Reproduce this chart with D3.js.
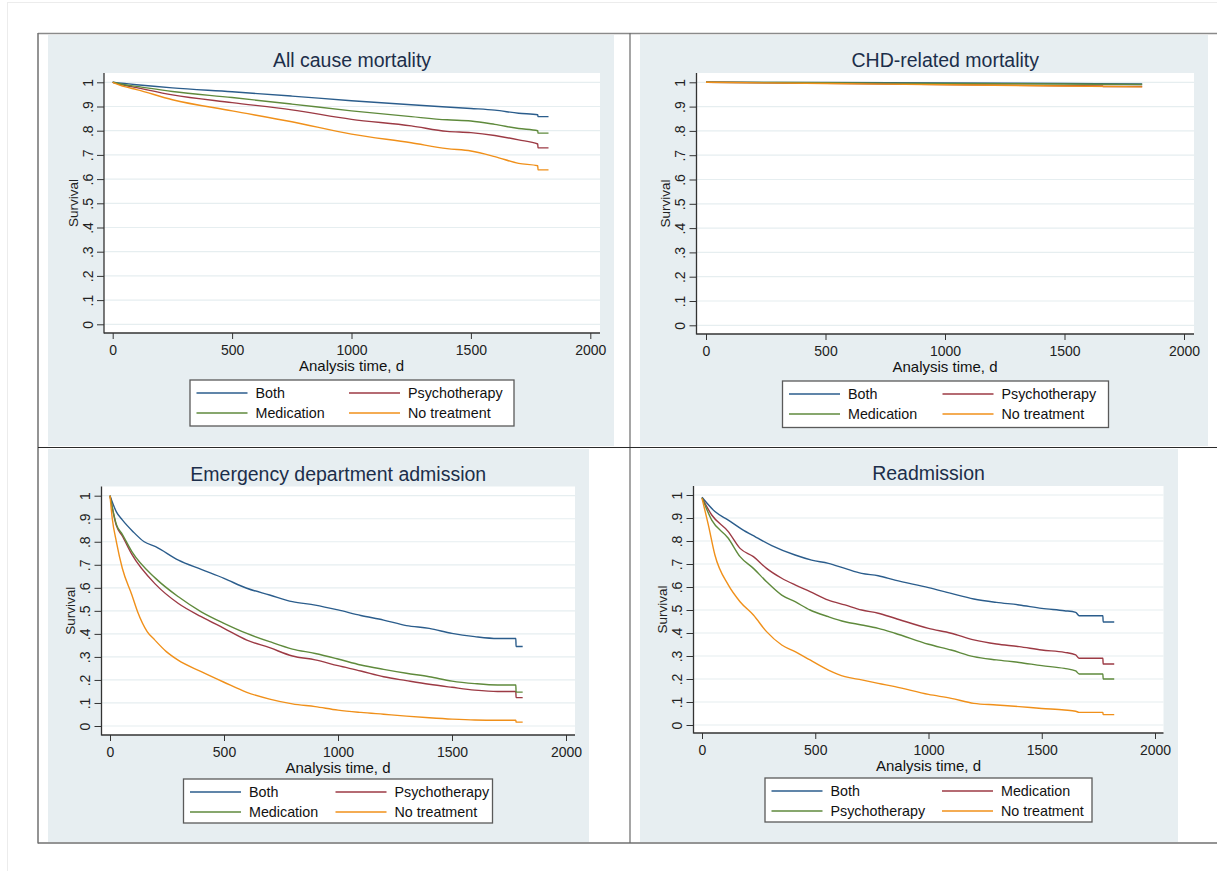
<!DOCTYPE html>
<html>
<head>
<meta charset="utf-8">
<script src="https://cdn.jsdelivr.net/npm/d3@7"></script>
<style>
  body { margin: 0; background: #fff; }
  text { font-family: "Liberation Sans", Arial, sans-serif; }
</style>
</head>
<body>
<script>
// ---- data: [analysis time (d), survival] ----
const xTicks = [0, 500, 1000, 1500, 2000];
const yTicks = [0, .1, .2, .3, .4, .5, .6, .7, .8, .9, 1];
const seriesColors = ["#2b5d8c", "#9c3a44", "#5f8a3c", "#f0901a"];

// All cause mortality
const acBoth = [[0,1],[50,.995],[100,.99],[250,.977],[500,.961],[750,.943],[1000,.924],[1250,.907],[1500,.892],[1600,.885],[1700,.872],[1780,.866],[1781,.858],[1825,.858]];
const acPsycho = [[0,1],[50,.988],[100,.978],[250,.948],[500,.916],[750,.886],[1000,.847],[1250,.82],[1400,.797],[1500,.792],[1600,.78],[1700,.762],[1780,.745],[1781,.729],[1825,.729]];
const acMed = [[0,1],[50,.99],[100,.983],[250,.962],[500,.937],[750,.91],[1000,.882],[1250,.858],[1400,.845],[1500,.84],[1600,.826],[1700,.809],[1780,.8],[1781,.79],[1825,.79]];
const acNone = [[0,1],[50,.982],[100,.97],[250,.928],[500,.882],[750,.837],[1000,.786],[1250,.75],[1400,.726],[1500,.716],[1600,.693],[1700,.665],[1780,.655],[1781,.638],[1825,.638]];

// CHD-related mortality
const chdBoth = [[0,1],[500,.999],[1000,.997],[1500,.995],[1825,.993]];
const chdPsycho = [[0,1],[500,.996],[1000,.991],[1500,.986],[1660,.985],[1661,.983],[1825,.983]];
const chdMed = [[0,1],[500,.998],[1000,.995],[1500,.993],[1825,.991]];
const chdNone = [[0,1],[500,.995],[1000,.99],[1500,.985],[1825,.981]];

// Emergency department admission
const edBoth = [[0,1],[28,.93],[54,.895],[100,.845],[150,.8],[200,.779],[300,.72],[400,.68],[500,.641],[600,.598],[700,.569],[800,.54],[900,.525],[1000,.504],[1100,.48],[1200,.46],[1300,.436],[1400,.424],[1500,.402],[1600,.388],[1700,.38],[1780,.38],[1781,.345],[1810,.345]];
const edPsycho = [[0,1],[28,.87],[54,.825],[96,.745],[200,.615],[300,.532],[400,.475],[500,.424],[600,.373],[700,.34],[800,.304],[900,.287],[1000,.262],[1100,.239],[1200,.214],[1300,.197],[1400,.181],[1500,.168],[1600,.156],[1700,.15],[1780,.15],[1781,.123],[1810,.123]];
const edMed = [[0,1],[28,.875],[54,.832],[96,.757],[200,.641],[300,.561],[400,.496],[500,.446],[600,.402],[700,.366],[800,.334],[900,.315],[1000,.291],[1100,.265],[1200,.246],[1300,.229],[1400,.214],[1500,.195],[1600,.184],[1700,.178],[1780,.178],[1781,.147],[1810,.147]];
const edNone = [[0,1],[10,.9],[28,.8],[54,.685],[96,.569],[121,.496],[163,.41],[196,.374],[247,.323],[297,.287],[400,.236],[500,.19],[600,.146],[700,.117],[800,.096],[900,.084],[1000,.069],[1100,.059],[1200,.051],[1300,.043],[1400,.036],[1500,.03],[1600,.026],[1700,.025],[1780,.025],[1781,.017],[1810,.017]];

// Readmission
const reBoth = [[0,.99],[57,.928],[116,.891],[175,.852],[234,.819],[308,.78],[411,.739],[484,.717],[558,.703],[631,.681],[705,.659],[778,.649],[852,.63],[1000,.597],[1100,.572],[1200,.548],[1300,.533],[1400,.522],[1500,.507],[1600,.497],[1650,.49],[1665,.475],[1770,.475],[1771,.448],[1820,.448]];
const reMed = [[0,.988],[43,.913],[116,.841],[168,.768],[227,.732],[285,.681],[352,.638],[411,.609],[477,.58],[558,.543],[631,.522],[705,.5],[778,.486],[852,.464],[1000,.42],[1100,.399],[1200,.37],[1300,.352],[1400,.341],[1500,.326],[1600,.316],[1650,.305],[1665,.29],[1770,.29],[1771,.265],[1820,.265]];
const rePsycho = [[0,.988],[43,.891],[116,.812],[168,.732],[227,.681],[285,.623],[352,.565],[411,.536],[477,.5],[558,.471],[631,.449],[705,.435],[778,.42],[852,.399],[1000,.351],[1100,.326],[1200,.297],[1300,.283],[1400,.272],[1500,.258],[1600,.246],[1650,.235],[1665,.222],[1770,.222],[1771,.2],[1820,.2]];
const reNone = [[0,.985],[28,.87],[57,.739],[116,.609],[168,.536],[227,.478],[285,.406],[352,.348],[411,.319],[477,.283],[558,.239],[631,.21],[705,.196],[778,.181],[852,.167],[1000,.133],[1100,.116],[1200,.094],[1300,.087],[1400,.08],[1500,.072],[1600,.065],[1650,.06],[1665,.055],[1770,.055],[1771,.045],[1820,.045]];

// ---- layout of the four panels ----
const panels = [
  { title: "All cause mortality",
    bg: [48, 35, 614, 446], plot: [104, 73, 600, 333],
    xr: [112.7, 590.3], yr: [324.3, 82.3],
    legend: { x: 190, y: 380, w: 324, h: 46, col2: 159 },
    names: ["Both", "Psychotherapy", "Medication", "No treatment"],
    series: [acBoth, acPsycho, acMed, acNone] },
  { title: "CHD-related mortality",
    bg: [640, 35, 1208, 446], plot: [696.5, 73, 1194, 334],
    xr: [706, 1184], yr: [325.3, 82.3],
    legend: { x: 782.5, y: 381, w: 326, h: 46.5, col2: 160 },
    names: ["Both", "Psychotherapy", "Medication", "No treatment"],
    series: [chdBoth, chdPsycho, chdMed, chdNone] },
  { title: "Emergency department admission",
    bg: [48, 449, 589, 842], plot: [101.5, 486.5, 575, 735],
    xr: [110, 566], yr: [726, 495.7],
    legend: { x: 183.5, y: 779, w: 309, h: 44, col2: 152 },
    names: ["Both", "Psychotherapy", "Medication", "No treatment"],
    series: [edBoth, edPsycho, edMed, edNone] },
  { title: "Readmission",
    bg: [640, 449, 1178, 842], plot: [693.5, 486, 1163.5, 733],
    xr: [702, 1155], yr: [725, 495],
    legend: { x: 765, y: 778, w: 327, h: 44, col2: 177 },
    names: ["Both", "Medication", "Psychotherapy", "No treatment"],
    series: [reBoth, reMed, rePsycho, reNone] }
];

const width = 1217, height = 871;

const svg = d3.select("body")
  .append("svg")
  .attr("width", width)
  .attr("height", height);

// faint page edge
svg.append("line").attr("x1", 7.5).attr("x2", 7.5).attr("y1", 2).attr("y2", height)
  .attr("stroke", "#ececec");
svg.append("line").attr("x1", 7).attr("x2", width).attr("y1", 2.5).attr("y2", 2.5)
  .attr("stroke", "#ececec");

// panel backgrounds
panels.forEach(p => {
  svg.append("rect")
    .attr("x", p.bg[0]).attr("y", p.bg[1])
    .attr("width", p.bg[2] - p.bg[0]).attr("height", p.bg[3] - p.bg[1])
    .attr("fill", "#e7eef1");
});

// frame round the figure
const frame = svg.append("g").attr("fill", "none");
frame.append("line").attr("x1", 38).attr("x2", width).attr("y1", 33.5).attr("y2", 33.5)
  .attr("stroke", "#8a8a8a").attr("stroke-width", 1.5);
frame.append("line").attr("x1", 38).attr("x2", 38).attr("y1", 33).attr("y2", 843.5)
  .attr("stroke", "#707070").attr("stroke-width", 1.5);
frame.append("line").attr("x1", 38).attr("x2", width).attr("y1", 843).attr("y2", 843)
  .attr("stroke", "#707070").attr("stroke-width", 1.5);
frame.append("line").attr("x1", 630).attr("x2", 630).attr("y1", 33).attr("y2", 843)
  .attr("stroke", "#6a6a6a").attr("stroke-width", 1.2);
frame.append("line").attr("x1", 38).attr("x2", width).attr("y1", 447.5).attr("y2", 447.5)
  .attr("stroke", "#2a2a2a").attr("stroke-width", 1.2);

const fmtY = d => d === 0 ? "0" : d === 1 ? "1" : d3.format(".1f")(d).replace(/^0/, "");

function drawPanel(p) {
  const [l, t, r, b] = p.plot;
  const x = d3.scaleLinear().domain([0, 2000]).range(p.xr);
  const y = d3.scaleLinear().domain([0, 1]).range(p.yr);
  const g = svg.append("g");

  // white plot region
  g.append("rect").attr("x", l).attr("y", t).attr("width", r - l).attr("height", b - t)
    .attr("fill", "#fff");

  // gridlines
  g.append("g").selectAll("line")
    .data(yTicks)
    .enter().append("line")
    .attr("x1", l).attr("x2", r)
    .attr("y1", d => y(d)).attr("y2", d => y(d))
    .attr("stroke", "#e6eef0").attr("stroke-width", 1.2);

  // curves
  const line = d3.line().x(d => x(d[0])).y(d => y(d[1])).curve(d3.curveMonotoneX);
  g.append("g").selectAll("path")
    .data(p.series)
    .enter().append("path")
    .attr("d", line)
    .attr("fill", "none")
    .attr("stroke", (d, i) => seriesColors[i])
    .attr("stroke-width", 1.4);

  // y axis
  const yAxis = g.append("g")
    .attr("transform", `translate(${l},0)`)
    .call(d3.axisLeft(y).tickValues(yTicks).tickFormat(fmtY).tickSize(7).tickSizeOuter(0));
  yAxis.select(".domain").remove();
  yAxis.selectAll(".tick line").attr("stroke", "#333");
  yAxis.selectAll(".tick text")
    .attr("transform", "rotate(-90)")
    .attr("x", 0).attr("y", -16).attr("dy", "0.35em")
    .attr("text-anchor", "middle")
    .attr("font-size", 14)
    .attr("fill", "#222");

  // x axis
  const xAxis = g.append("g")
    .attr("transform", `translate(0,${b})`)
    .call(d3.axisBottom(x).tickValues(xTicks).tickFormat(d3.format("d")).tickSize(6).tickSizeOuter(0));
  xAxis.select(".domain").remove();
  xAxis.selectAll(".tick line").attr("stroke", "#333");
  xAxis.selectAll(".tick text")
    .attr("y", 12).attr("dy", "0.71em")
    .attr("font-size", 14)
    .attr("fill", "#222");

  // axis lines over the full plot region
  g.append("line").attr("x1", l).attr("x2", l).attr("y1", t).attr("y2", b + 0.5)
    .attr("stroke", "#333").attr("stroke-width", 1.3);
  g.append("line").attr("x1", l).attr("x2", r).attr("y1", b).attr("y2", b)
    .attr("stroke", "#333").attr("stroke-width", 1.3);

  // titles
  const cx = (p.xr[0] + p.xr[1]) / 2;
  g.append("text")
    .attr("x", (l + r) / 2).attr("y", t - 6)
    .attr("text-anchor", "middle")
    .attr("font-size", 19.5)
    .attr("fill", "#1c2e4a")
    .text(p.title);
  g.append("text")
    .attr("x", cx).attr("y", b + 38)
    .attr("text-anchor", "middle")
    .attr("font-size", 15)
    .attr("fill", "#111")
    .text("Analysis time, d");
  g.append("text")
    .attr("transform", `translate(${l - 31},${(t + b) / 2}) rotate(-90)`)
    .attr("text-anchor", "middle")
    .attr("dy", "0.35em")
    .attr("font-size", 13.5)
    .attr("fill", "#222")
    .text("Survival");

  // legend
  const lg = p.legend;
  const leg = g.append("g").attr("transform", `translate(${lg.x},${lg.y})`);
  leg.append("rect").attr("width", lg.w).attr("height", lg.h)
    .attr("fill", "#fff").attr("stroke", "#5a5a5a").attr("stroke-width", 1.3);
  const items = leg.selectAll("g.item")
    .data(p.names)
    .enter().append("g")
    .attr("class", "item")
    .attr("transform", (d, i) => `translate(${i % 2 === 0 ? 6.5 : lg.col2},${i < 2 ? 13 : 33})`);
  items.append("line")
    .attr("x1", 0).attr("x2", 51)
    .attr("stroke", (d, i) => seriesColors[i])
    .attr("stroke-width", 1.4);
  items.append("text")
    .attr("x", 59).attr("dy", "0.36em")
    .attr("font-size", 14.3)
    .attr("fill", "#111")
    .text(d => d);
}

panels.forEach(drawPanel);
</script>
</body>
</html>
